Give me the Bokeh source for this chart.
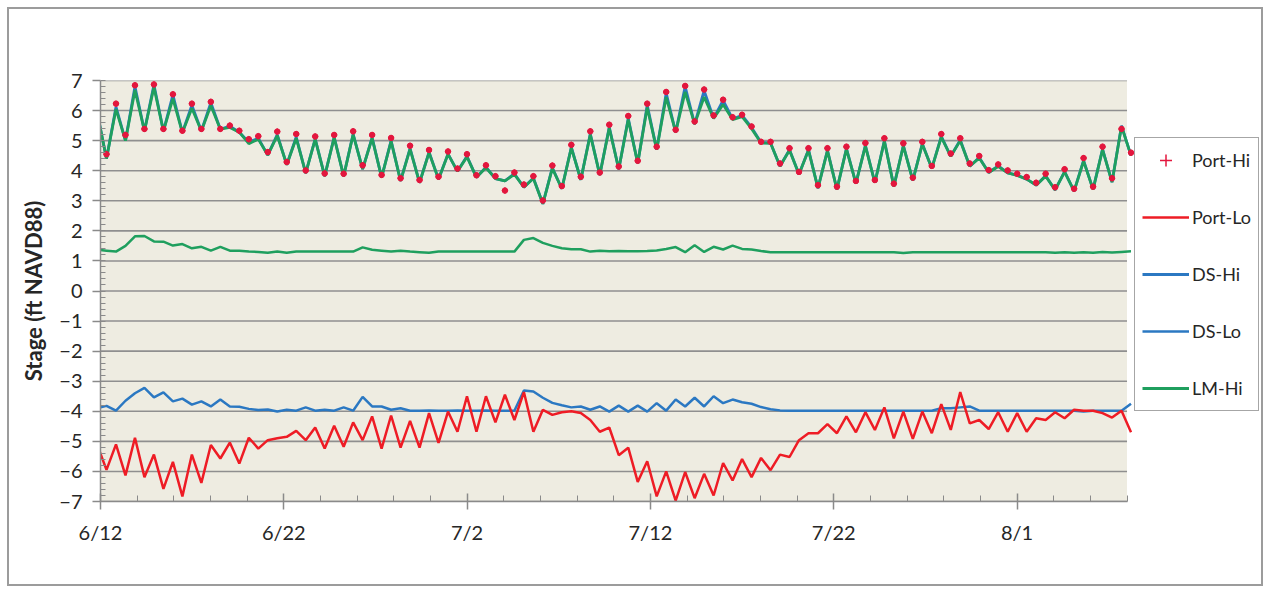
from bokeh.plotting import figure
from bokeh.models import Range1d, FixedTicker, Legend, LegendItem, BoxAnnotation
from bokeh.embed import file_html
from bokeh.resources import INLINE

# ---------------- data (ft NAVD88), one value per tide (~12.42 h) ----------------
first_tide_day = -0.19          # days after 6/12 00:00
tide_step_days = 0.5175         # 12.42 hours

port_hi = [6.00, 4.55, 6.23, 5.19, 6.84, 5.39, 6.87, 5.39, 6.54, 5.33,
           6.23, 5.39, 6.29, 5.39, 5.50, 5.33, 5.05, 5.15, 4.62, 5.30,
           4.29, 5.22, 4.01, 5.14, 3.91, 5.19, 3.90, 5.31, 4.18, 5.19,
           3.86, 5.09, 3.75, 4.83, 3.69, 4.69, 3.80, 4.64, 4.07, 4.55,
           3.85, 4.18, 3.82, 3.34, 3.94, 3.54, 3.82, 3.01, 4.17, 3.49,
           4.86, 3.80, 5.31, 3.94, 5.53, 4.14, 5.82, 4.33, 6.23, 4.80,
           6.62, 5.36, 6.82, 5.64, 6.70, 5.84, 6.36, 5.78, 5.86, 5.47,
           4.96, 4.96, 4.24, 4.75, 3.96, 4.75, 3.52, 4.75, 3.47, 4.80,
           3.66, 4.92, 3.69, 5.08, 3.57, 4.91, 3.77, 4.96, 4.16, 5.22,
           4.57, 5.08, 4.24, 4.49, 4.02, 4.21, 4.01, 3.90, 3.79, 3.60,
           3.90, 3.45, 4.05, 3.40, 4.42, 3.47, 4.80, 3.75, 5.39, 4.60]

port_lo = [-5.10, -5.95, -5.10, -6.13, -4.88, -6.19, -5.44, -6.58, -5.68, -6.83,
           -5.44, -6.38, -5.12, -5.57, -5.04, -5.74, -4.88, -5.24, -4.96, -4.90,
           -4.85, -4.65, -4.96, -4.54, -5.24, -4.48, -5.18, -4.37, -4.96, -4.17,
           -5.24, -4.14, -5.21, -4.32, -5.21, -4.06, -5.05, -4.01, -4.68, -3.50,
           -4.68, -3.50, -4.37, -3.45, -4.29, -3.36, -4.68, -3.95, -4.12, -4.03,
           -4.00, -4.06, -4.29, -4.68, -4.54, -5.46, -5.21, -6.35, -5.66, -6.83,
           -6.00, -6.97, -6.02, -6.89, -6.08, -6.80, -5.72, -6.30, -5.59, -6.19,
           -5.55, -5.96, -5.44, -5.52, -4.96, -4.73, -4.73, -4.43, -4.73, -4.17,
           -4.70, -4.03, -4.62, -3.87, -4.90, -4.01, -4.92, -4.01, -4.73, -3.76,
           -4.62, -3.36, -4.40, -4.29, -4.59, -4.03, -4.68, -4.06, -4.68, -4.23,
           -4.29, -4.03, -4.23, -3.95, -3.98, -3.98, -4.06, -4.21, -3.98, -4.70]

ds_hi = [5.97, 4.40, 6.12, 5.00, 6.80, 5.32, 6.86, 5.32, 6.52, 5.27,
         6.18, 5.32, 6.26, 5.38, 5.48, 5.28, 4.95, 5.08, 4.52, 5.20,
         4.20, 5.12, 3.92, 5.06, 3.82, 5.12, 3.82, 5.22, 4.05, 5.10,
         3.78, 5.00, 3.66, 4.74, 3.60, 4.62, 3.72, 4.56, 3.98, 4.48,
         3.78, 4.12, 3.74, 3.66, 3.90, 3.45, 3.76, 2.90, 4.10, 3.40,
         4.78, 3.70, 5.23, 3.86, 5.45, 4.05, 5.74, 4.25, 6.18, 4.70,
         6.58, 5.28, 6.80, 5.55, 6.66, 5.74, 6.34, 5.72, 5.84, 5.44,
         4.94, 4.92, 4.15, 4.70, 3.88, 4.70, 3.42, 4.68, 3.38, 4.74,
         3.58, 4.84, 3.60, 5.00, 3.48, 4.84, 3.68, 4.90, 4.08, 5.14,
         4.48, 5.02, 4.15, 4.44, 3.94, 4.16, 3.93, 3.85, 3.72, 3.52,
         3.83, 3.36, 3.97, 3.32, 4.34, 3.38, 4.72, 3.62, 5.50, 4.50]

ds_lo = [-3.90, -3.82, -3.98, -3.65, -3.40, -3.22, -3.54, -3.37, -3.67, -3.58,
         -3.78, -3.67, -3.84, -3.61, -3.84, -3.85, -3.92, -3.96, -3.94, -4.01,
         -3.95, -3.98, -3.87, -3.98, -3.95, -3.98, -3.87, -3.98, -3.52, -3.84,
         -3.84, -3.95, -3.90, -3.98, -3.98, -3.97, -3.98, -3.98, -3.97, -3.98,
         -3.98, -3.97, -3.98, -3.98, -3.98, -3.31, -3.34, -3.55, -3.72, -3.80,
         -3.87, -3.84, -3.95, -3.84, -4.01, -3.81, -4.01, -3.81, -4.01, -3.73,
         -3.98, -3.61, -3.84, -3.55, -3.84, -3.50, -3.73, -3.61, -3.70, -3.75,
         -3.86, -3.93, -3.97, -3.98, -3.98, -3.98, -3.98, -3.98, -3.98, -3.98,
         -3.98, -3.98, -3.98, -3.98, -3.98, -3.98, -3.98, -3.98, -3.98, -3.90,
         -3.90, -3.87, -3.84, -3.98, -3.98, -3.98, -3.98, -3.98, -3.98, -3.98,
         -3.98, -3.98, -3.98, -3.98, -4.01, -3.98, -3.98, -3.98, -3.98, -3.75]

lm_hi = [5.95, 4.40, 6.05, 5.00, 6.68, 5.32, 6.78, 5.32, 6.40, 5.27,
         6.08, 5.32, 6.17, 5.38, 5.44, 5.28, 4.90, 5.05, 4.52, 5.17,
         4.20, 5.08, 3.92, 5.04, 3.82, 5.10, 3.82, 5.20, 4.05, 5.08,
         3.78, 4.98, 3.66, 4.72, 3.60, 4.60, 3.72, 4.55, 3.98, 4.46,
         3.78, 4.10, 3.74, 3.66, 3.88, 3.45, 3.74, 2.90, 4.08, 3.40,
         4.76, 3.70, 5.20, 3.86, 5.42, 4.05, 5.70, 4.25, 6.10, 4.70,
         6.45, 5.28, 6.62, 5.55, 6.45, 5.74, 6.20, 5.70, 5.80, 5.40,
         4.92, 4.92, 4.15, 4.68, 3.88, 4.68, 3.42, 4.66, 3.38, 4.72,
         3.58, 4.82, 3.60, 4.98, 3.48, 4.82, 3.68, 4.88, 4.08, 5.12,
         4.48, 5.00, 4.15, 4.42, 3.94, 4.14, 3.93, 3.84, 3.72, 3.52,
         3.82, 3.36, 3.96, 3.32, 4.32, 3.38, 4.70, 3.62, 5.48, 4.50]

lm_lo = [1.37, 1.34, 1.31, 1.50, 1.82, 1.83, 1.65, 1.64, 1.51, 1.56,
         1.42, 1.47, 1.34, 1.47, 1.34, 1.34, 1.31, 1.30, 1.27, 1.31,
         1.27, 1.31, 1.31, 1.31, 1.31, 1.31, 1.31, 1.31, 1.45, 1.37,
         1.34, 1.31, 1.34, 1.31, 1.29, 1.27, 1.31, 1.31, 1.31, 1.31,
         1.31, 1.31, 1.31, 1.31, 1.31, 1.70, 1.76, 1.60, 1.50, 1.42,
         1.39, 1.39, 1.31, 1.34, 1.32, 1.33, 1.32, 1.32, 1.33, 1.35,
         1.40, 1.46, 1.29, 1.52, 1.30, 1.47, 1.38, 1.51, 1.40, 1.38,
         1.33, 1.29, 1.29, 1.29, 1.29, 1.29, 1.29, 1.29, 1.29, 1.29,
         1.29, 1.29, 1.29, 1.29, 1.29, 1.26, 1.29, 1.29, 1.29, 1.29,
         1.29, 1.29, 1.29, 1.29, 1.29, 1.29, 1.29, 1.29, 1.29, 1.29,
         1.29, 1.27, 1.29, 1.27, 1.29, 1.27, 1.30, 1.28, 1.30, 1.32]

tide_day = [first_tide_day + tide_step_days * i for i in range(len(port_hi))]

x_tick_days = [0, 10, 20, 30, 40, 50]
x_tick_labels = ["6/12", "6/22", "7/2", "7/12", "7/22", "8/1"]
x_minor_days = list(range(0, 57, 2))
y_ticks = list(range(-7, 8))
y_minor = [round(-7 + 0.2 * k, 1) for k in range(71)]

# ---------------- layout constants ----------------
AXIS_START, AXIS_END = 0, 56          # plotted period in days (6/12 .. 8/7)
PLOT_AREA_PX = 1023                   # width of shaded plot area
FRAME_PX = 1161                       # frame also holds the legend on the right
X_VIEW_END = AXIS_END * FRAME_PX / PLOT_AREA_PX

FONT = "Lato"
RED_DOT = "#e3173e"
RED = "#ee1c25"
BLUE = "#2b78c2"
GREEN = "#1f9f5e"
GRID = "#8f8f8f"

p = figure(width=1256, height=579, output_backend="svg", toolbar_location=None,
           x_range=Range1d(AXIS_START, X_VIEW_END), y_range=Range1d(-7, 7),
           min_border_left=91, min_border_right=0,
           min_border_top=71, min_border_bottom=87,
           margin=(7, 0, 0, 7))
p.background_fill_color = "white"
p.border_fill_color = "white"
p.outline_line_color = None
p.styles = {"border": "2px solid #9c9c9c", "box-sizing": "border-box"}

# shaded plot area (only over the plotted period)
p.add_layout(BoxAnnotation(left=AXIS_START, right=AXIS_END, bottom=-7, top=7,
                           fill_color="#eeece1", fill_alpha=1, line_color=None,
                           level="underlay"))

# axes
p.xaxis.ticker = FixedTicker(ticks=x_tick_days, minor_ticks=x_minor_days)
p.xaxis.major_label_overrides = {d: lab for d, lab in zip(x_tick_days, x_tick_labels)}
p.xaxis.bounds = (AXIS_START, AXIS_END)
p.yaxis.ticker = FixedTicker(ticks=y_ticks, minor_ticks=y_minor)
for ax in (p.xaxis[0], p.yaxis[0]):
    ax.axis_line_color = "#8a8a8a"
    ax.axis_line_width = 1.5
    ax.major_tick_line_color = "#8a8a8a"
    ax.minor_tick_line_color = "#8a8a8a"
    ax.major_tick_line_width = 1.5
    ax.minor_tick_line_width = 1
    ax.major_label_text_font = FONT
    ax.major_label_text_font_size = "20px"
    ax.major_label_text_color = "#262626"
    ax.major_label_standoff = 10
p.xaxis.major_tick_in = 8
p.xaxis.major_tick_out = 8
p.xaxis.minor_tick_in = 6
p.xaxis.minor_tick_out = 0
p.yaxis.major_tick_in = 0
p.yaxis.major_tick_out = 8
p.yaxis.minor_tick_in = 5
p.yaxis.minor_tick_out = 0

p.yaxis.axis_label = "Stage (ft NAVD88)"
p.yaxis.axis_label_text_font = FONT
p.yaxis.axis_label_text_font_style = "bold"
p.yaxis.axis_label_text_font_size = "22px"
p.yaxis.axis_label_text_color = "#262626"
p.yaxis.axis_label_standoff = 9

p.xgrid.visible = False
p.ygrid.visible = False
# horizontal gridlines across the plotted period only
p.segment(x0=[AXIS_START] * len(y_ticks), x1=[AXIS_END] * len(y_ticks),
          y0=y_ticks, y1=y_ticks, line_color=GRID, line_width=1.6)

# series (drawn in order, later on top)
r_dslo = p.line(tide_day, ds_lo, line_color=BLUE, line_width=2.5)
r_portlo = p.line(tide_day, port_lo, line_color=RED, line_width=2.5)
r_dshi = p.line(tide_day, ds_hi, line_color=BLUE, line_width=2.8)
r_lmhi = p.line(tide_day, lm_hi, line_color=GREEN, line_width=2.8)
r_lmlo = p.line(tide_day, lm_lo, line_color=GREEN, line_width=2.5)
p.scatter(tide_day, port_hi, marker="circle", size=5.5, fill_color=RED_DOT,
          line_color=RED_DOT)
r_porthi = p.scatter(tide_day, port_hi, marker="cross", size=6, line_color=RED_DOT,
                     line_width=1.5)

legend = Legend(items=[
    LegendItem(label="Port-Hi", renderers=[r_porthi]),
    LegendItem(label="Port-Lo", renderers=[r_portlo]),
    LegendItem(label="DS-Hi", renderers=[r_dshi]),
    LegendItem(label="DS-Lo", renderers=[r_dslo]),
    LegendItem(label="LM-Hi", renderers=[r_lmhi]),
], location=(1034, 90))
legend.label_text_font = FONT
legend.label_text_font_size = "18px"
legend.label_text_color = "#262626"
legend.glyph_width = 47
legend.glyph_height = 30
legend.label_height = 30
legend.spacing = 27
legend.padding = 7
legend.margin = 0
legend.label_standoff = 3
legend.border_line_color = "#4d4d4d"
legend.border_line_width = 1.5
legend.background_fill_color = "white"
legend.background_fill_alpha = 1
p.add_layout(legend)

open("out.html", "w").write(file_html(p, INLINE))
